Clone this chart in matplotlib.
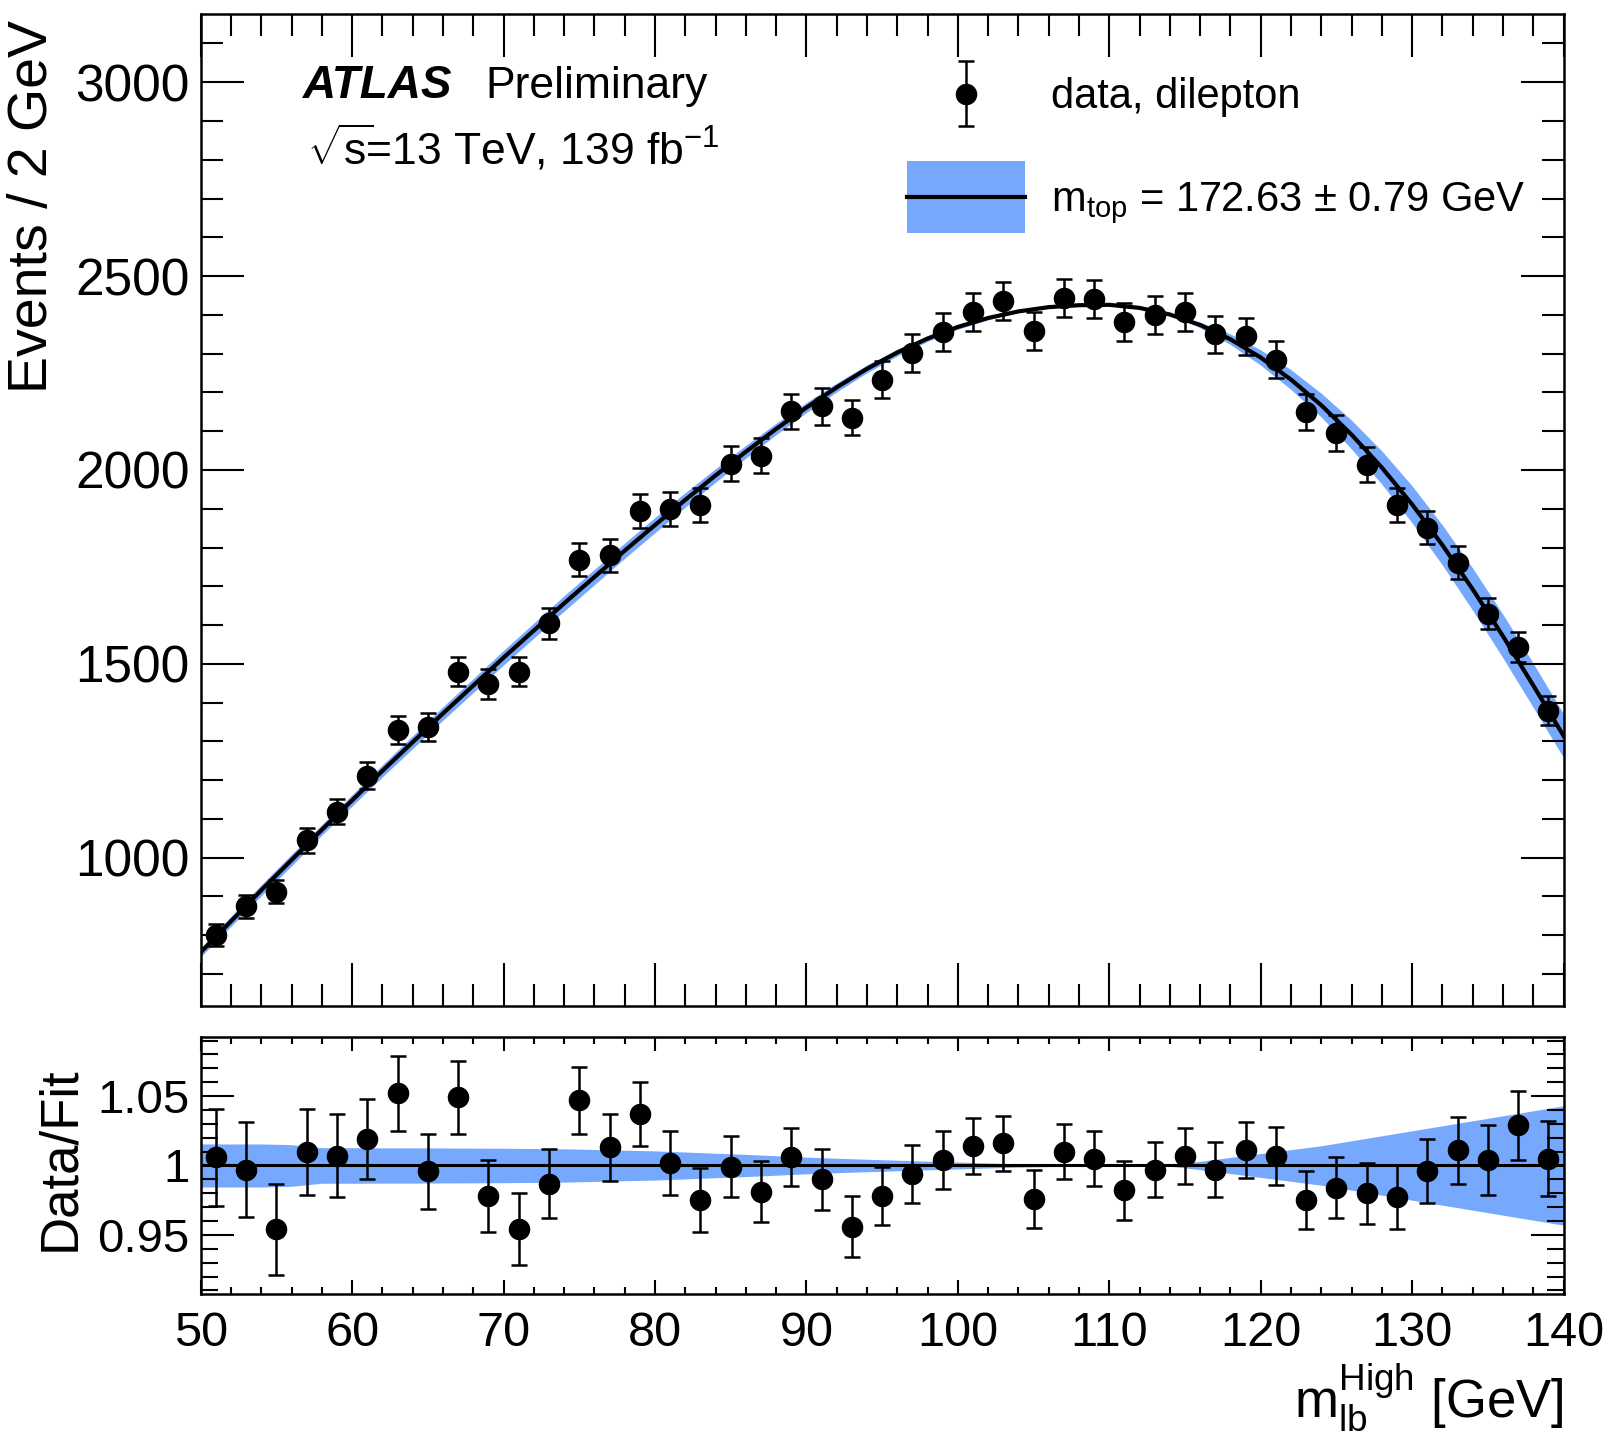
import numpy as np
import matplotlib
matplotlib.use("Agg")
import matplotlib.pyplot as plt
from matplotlib.patches import Patch, Rectangle
from matplotlib.lines import Line2D
from matplotlib.collections import LineCollection
from matplotlib.container import ErrorbarContainer
from matplotlib.legend_handler import HandlerErrorbar, HandlerTuple, HandlerPatch
from matplotlib.ticker import MultipleLocator

plt.rcParams['font.family'] = ['Liberation Sans', 'DejaVu Sans']
plt.rcParams['mathtext.fontset'] = 'custom'
plt.rcParams['mathtext.rm'] = 'Liberation Sans'
plt.rcParams['mathtext.it'] = 'Liberation Sans:italic'
plt.rcParams['mathtext.bf'] = 'Liberation Sans:bold'

# bin centres [GeV]
mlb = [51, 53, 55, 57, 59, 61, 63, 65, 67, 69, 71, 73, 75, 77, 79, 81, 83, 85,
       87, 89, 91, 93, 95, 97, 99, 101, 103, 105, 107, 109, 111, 113, 115, 117,
       119, 121, 123, 125, 127, 129, 131, 133, 135, 137, 139]
events = [801, 875, 912, 1045, 1119, 1212, 1329, 1337, 1480, 1448, 1480, 1605,
          1769, 1780, 1894, 1899, 1910, 2016, 2037, 2151, 2164, 2135, 2233, 2302,
          2355, 2408, 2435, 2358, 2443, 2440, 2382, 2400, 2408, 2350, 2345, 2284,
          2149, 2095, 2013, 1910, 1851, 1761, 1629, 1544, 1379]
events_err = [28, 30, 30, 32, 33, 35, 36, 37, 38, 38, 38, 40, 42, 42, 44, 44, 44,
              45, 45, 46, 47, 46, 47, 48, 49, 49, 49, 49, 49, 49, 49, 49, 49, 48,
              48, 48, 46, 46, 45, 44, 43, 42, 40, 39, 37]
ratio = [1.006, 0.997, 0.954, 1.010, 1.007, 1.019, 1.052, 0.996, 1.049, 0.978,
         0.954, 0.987, 1.047, 1.013, 1.037, 1.002, 0.975, 0.999, 0.981, 1.006,
         0.990, 0.956, 0.978, 0.994, 1.004, 1.014, 1.016, 0.976, 1.010, 1.005,
         0.982, 0.997, 1.007, 0.997, 1.011, 1.007, 0.975, 0.984, 0.980, 0.977,
         0.996, 1.011, 1.004, 1.029, 1.005]
ratio_err = [0.035, 0.034, 0.033, 0.031, 0.030, 0.029, 0.027, 0.027, 0.026, 0.026,
             0.026, 0.025, 0.024, 0.024, 0.023, 0.023, 0.023, 0.022, 0.022, 0.021,
             0.022, 0.022, 0.021, 0.021, 0.021, 0.020, 0.020, 0.021, 0.020, 0.020,
             0.021, 0.020, 0.020, 0.020, 0.020, 0.021, 0.021, 0.022, 0.022, 0.023,
             0.023, 0.024, 0.025, 0.025, 0.027]

# fit curve and its relative uncertainty
fit_x = [50, 52, 54, 56, 58, 60, 62, 64, 66, 68, 70, 72, 74, 76, 78, 80, 82, 84,
         86, 88, 90, 92, 94, 96, 98, 100, 102, 104, 106, 108, 110, 112, 114, 116,
         118, 120, 122, 124, 126, 128, 130, 132, 134, 136, 138, 140]
fit_y = [756, 836, 916, 994, 1072, 1148, 1224, 1298, 1372, 1444, 1516, 1586, 1656,
         1724, 1792, 1858, 1923, 1986, 2047, 2106, 2161, 2213, 2261, 2303, 2339,
         2369, 2392, 2409, 2420, 2425, 2426, 2418, 2401, 2374, 2337, 2290, 2233,
         2167, 2091, 2006, 1911, 1806, 1692, 1571, 1444, 1314]
fit_rel = [0.0155, 0.0155, 0.0155, 0.0150, 0.0128, 0.0128, 0.0127, 0.0127, 0.0126,
           0.0125, 0.0124, 0.0122, 0.0120, 0.0115, 0.0110, 0.0105, 0.0097, 0.0088,
           0.0080, 0.0070, 0.0060, 0.0052, 0.0045, 0.0038, 0.0031, 0.0025, 0.0018,
           0.0012, 0.0008, 0.0005, 0.0003, 0.0002, 0.0005, 0.0030, 0.0058, 0.0086,
           0.0114, 0.0142, 0.0178, 0.0214, 0.0250, 0.0286, 0.0322, 0.0358, 0.0394,
           0.0430]

fit_x = np.array(fit_x)
fit_y = np.array(fit_y)
fit_rel = np.array(fit_rel)
band_col = '#76a8fd'

fig = plt.figure(figsize=(16.13, 14.41), dpi=100)
ax = fig.add_axes([0.1244, 0.302, 0.845, 0.688])
ax2 = fig.add_axes([0.1244, 0.102, 0.845, 0.1784], sharex=ax)

# main panel
ax.fill_between(fit_x, fit_y * (1 - fit_rel), fit_y * (1 + fit_rel),
                color=band_col, lw=0, zorder=1)
ax.plot(fit_x, fit_y, color='k', lw=3, zorder=2)
ax.errorbar(mlb, events, yerr=events_err, fmt='o', color='k', ms=14.5,
            elinewidth=1.8, capsize=6, capthick=1.8, zorder=3)
ax.set_xlim(50, 140)
ax.set_ylim(618, 3175)

# ratio panel
ax2.fill_between(fit_x, 1 - fit_rel, 1 + fit_rel, color=band_col, lw=0, zorder=1)
ax2.axhline(1, color='k', lw=2.2, zorder=2)
ax2.errorbar(mlb, ratio, yerr=ratio_err, fmt='o', color='k', ms=14.5,
             elinewidth=1.8, capsize=6, capthick=1.8, zorder=3)
ax2.set_ylim(0.9074, 1.0926)

for a in (ax, ax2):
    for s in a.spines.values():
        s.set_linewidth(1.8)
    a.xaxis.set_major_locator(MultipleLocator(10))
    a.xaxis.set_minor_locator(MultipleLocator(2))

ax.yaxis.set_major_locator(MultipleLocator(500))
ax.yaxis.set_minor_locator(MultipleLocator(100))
ax.tick_params(which='both', direction='in', top=True, right=True, width=1.5)
ax.tick_params(which='major', length=31)
ax.tick_params(which='minor', length=16)
ax.tick_params(axis='y', labelsize=37, pad=8)
ax.tick_params(axis='x', labelbottom=False)

ax2.yaxis.set_major_locator(MultipleLocator(0.05))
ax2.yaxis.set_minor_locator(MultipleLocator(0.01))
ax2.set_yticks([0.95, 1.0, 1.05])
ax2.set_yticklabels(['0.95', '1', '1.05'])
ax2.tick_params(which='both', direction='in', top=True, right=True, width=1.5)
ax2.tick_params(axis='y', which='major', length=24, labelsize=34, pad=8)
ax2.tick_params(axis='y', which='minor', length=12)
ax2.tick_params(axis='x', which='major', length=10, labelsize=35, pad=12)
ax2.tick_params(axis='x', which='minor', length=5)

ax.set_ylabel('Events / 2 GeV', fontsize=40)
ax.yaxis.set_label_coords(-0.123, 0.994)
ax.yaxis.label.set_ha('right')
ax.yaxis.label.set_va('center')

ax2.set_ylabel('Data/Fit', fontsize=38)
ax2.yaxis.set_label_coords(-0.103, 0.526)
ax2.yaxis.label.set_va('center')

ax2.set_xlabel(r'$\mathregular{m_{lb}^{High}}$ [GeV]', fontsize=38)
ax2.xaxis.set_label_coords(1.0, -0.481)
ax2.xaxis.label.set_ha('right')
ax2.xaxis.label.set_va('baseline')

# ATLAS label
ax.text(0.0747, 0.916, 'ATLAS', transform=ax.transAxes, fontsize=33,
        fontweight='bold', fontstyle='italic', va='baseline')
ax.text(0.209, 0.916, 'Preliminary', transform=ax.transAxes, fontsize=32,
        va='baseline')
ax.text(0.0778, 0.8485,
        r'$\sqrt{\mathregular{s}}\!$=13 TeV, 139 fb$^{\mathregular{-1}}$',
        transform=ax.transAxes, fontsize=32, va='baseline')


# legend: band box centred on the line, taller than the text row
def band_box(legend, orig_handle, xdescent, ydescent, width, height, fontsize):
    h = 1.73 * fontsize
    yc = (height - ydescent) / 2
    return Rectangle((-xdescent, yc - h / 2), width, h)


h_data = ErrorbarContainer(
    (Line2D([], [], marker='o', ls='', color='k', ms=14.5),
     (Line2D([], [], marker='_', color='k', ms=12, mew=1.8),) * 2,
     (LineCollection([], colors='k', linewidths=1.8),)),
    has_yerr=True, has_xerr=False)
h_fit = (Patch(facecolor=band_col, edgecolor='none'), Line2D([], [], color='k', lw=3))
ax.legend([h_data, h_fit],
          ['data, dilepton', r'$\mathregular{m_{top}}$ = 172.63 ± 0.79 GeV'],
          handler_map={ErrorbarContainer: HandlerErrorbar(yerr_size=0.77),
                       Patch: HandlerPatch(patch_func=band_box),
                       tuple: HandlerTuple(ndivide=1)},
          loc='upper left', bbox_to_anchor=(0.5185, 0.9367), frameon=False,
          fontsize=30, handlelength=2.83, handleheight=0.7, labelspacing=1.52,
          handletextpad=0.62, borderpad=0, borderaxespad=0)

fig.savefig('out.png', dpi=100)
